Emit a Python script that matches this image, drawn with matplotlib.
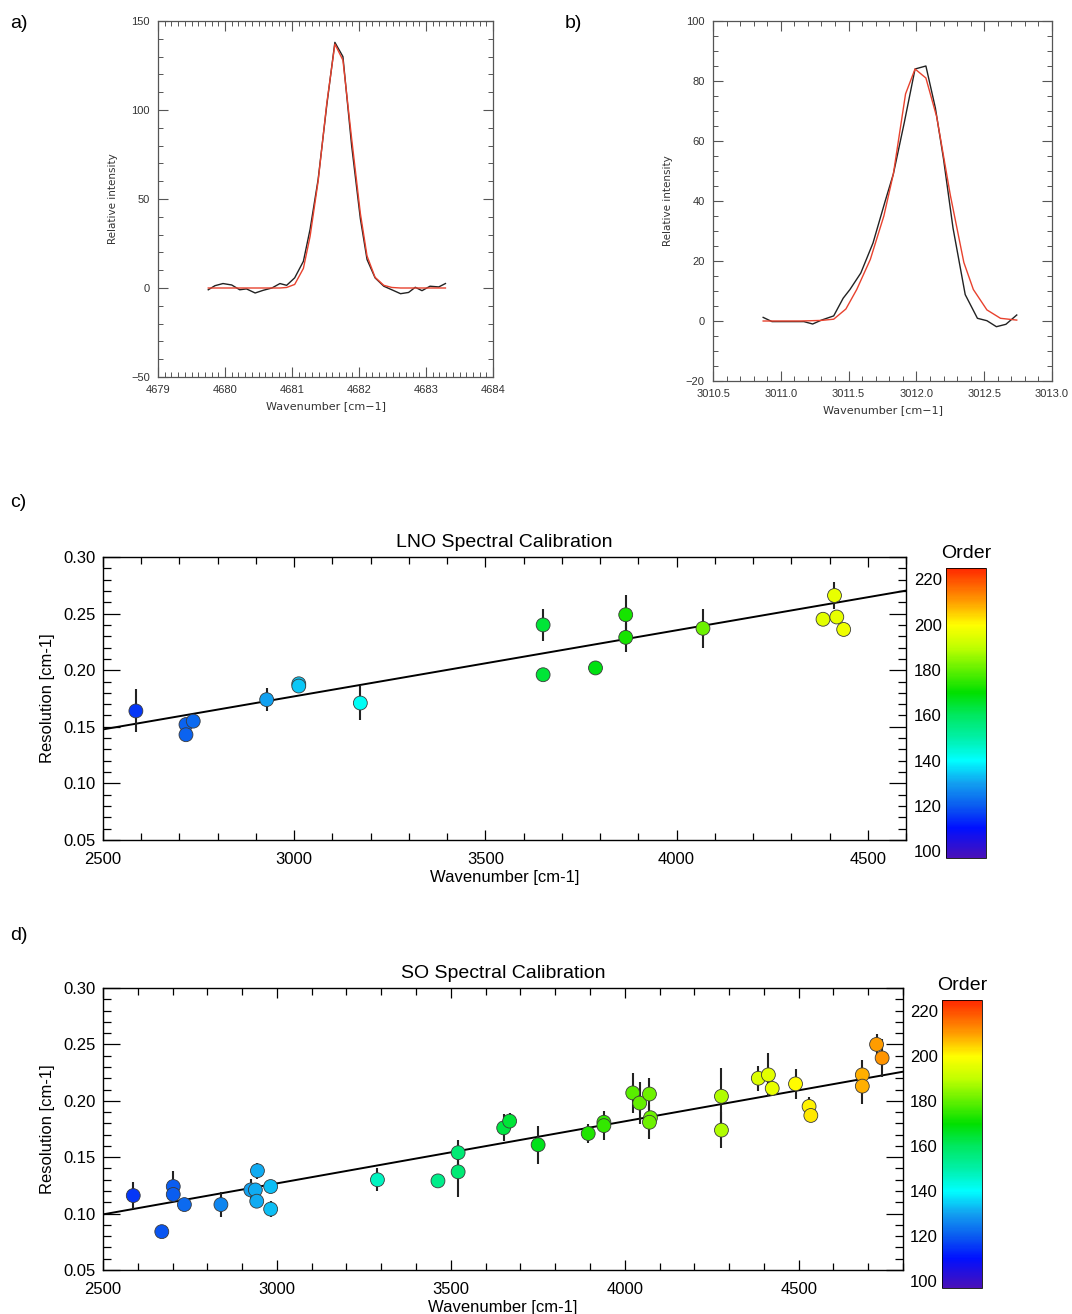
import matplotlib
matplotlib.use("Agg")
import matplotlib.pyplot as plt
import numpy as np
from matplotlib.colors import LinearSegmentedColormap, Normalize
from matplotlib.ticker import MultipleLocator

plt.rcParams["font.family"] = ["Liberation Sans", "DejaVu Sans"]

# ---- panel a: line at ~4681.6 cm-1
a_x = [4679.75, 4679.85, 4679.97, 4680.10, 4680.22, 4680.32, 4680.45, 4680.57,
       4680.70, 4680.82, 4680.92, 4681.04, 4681.17, 4681.27, 4681.39, 4681.52,
       4681.64, 4681.76, 4681.89, 4682.02, 4682.12, 4682.24, 4682.37, 4682.49,
       4682.62, 4682.74, 4682.84, 4682.94, 4683.06, 4683.19, 4683.29]
a_meas = [-1, 1.3, 2.5, 1.7, -1, -0.5, -2.8, -1.3, 0, 2.5, 1.5, 5.7, 15, 33, 61,
          103, 138, 130, 80, 39, 16, 5.7, 1, -1, -3.2, -2.5, 0.4, -1.5, 1, 0.6, 2.5]
a_fit = [0, 0, 0, 0, 0, 0, 0, 0, 0, 0, 0.3, 2, 11, 29, 60, 104, 137, 128, 84,
         42, 18, 6, 1.5, 0.3, 0, 0, 0, 0, 0, 0, 0]

# ---- panel b: line at ~3012.0 cm-1
b_x_meas = [3010.87, 3010.935, 3011.02, 3011.17, 3011.235, 3011.30, 3011.39,
            3011.46, 3011.51, 3011.59, 3011.68, 3011.77, 3011.83, 3011.91,
            3011.99, 3012.07, 3012.14, 3012.20, 3012.27, 3012.36, 3012.45,
            3012.52, 3012.59, 3012.66, 3012.74]
b_meas = [1.2, -0.2, -0.2, -0.2, -1.0, 0.3, 1.7, 7.6, 10.5, 16, 26, 40, 49, 66,
          84, 85, 71, 54, 31, 8.8, 0.9, 0.1, -1.9, -1.1, 2.0]
b_x_fit = [3010.87, 3011.00, 3011.15, 3011.30, 3011.39, 3011.48, 3011.56,
           3011.66, 3011.76, 3011.83, 3011.92, 3011.99, 3012.07, 3012.15,
           3012.25, 3012.35, 3012.42, 3012.52, 3012.62, 3012.74]
b_fit = [0, 0, 0, 0.2, 0.6, 4, 10.5, 20.5, 35, 49, 75.7, 84, 81, 68, 42, 19.5,
         10.5, 3.7, 0.9, 0.3]

# ---- panel c: LNO
lno_wn = [2586, 2717, 2717, 2736, 2928, 3012, 3012, 3173, 3651, 3651, 3788,
          3867, 3867, 4069, 4383, 4413, 4419, 4437]
lno_res = [0.164, 0.152, 0.143, 0.155, 0.174, 0.188, 0.186, 0.171, 0.240,
           0.196, 0.202, 0.249, 0.229, 0.237, 0.245, 0.266, 0.247, 0.236]
lno_err = [0.019, 0, 0, 0, 0.010, 0, 0, 0.015, 0.014, 0, 0, 0.017, 0.013,
           0.017, 0, 0.012, 0, 0]
lno_order = [115, 121, 121, 122, 130, 134, 134, 141, 164, 164, 168, 172, 172,
             181, 195, 196, 196, 197]
lno_fit_x = [2500, 4600]
lno_fit_y = [0.1477, 0.2703]

# ---- panel d: SO
so_wn = [2587, 2669, 2702, 2702, 2734, 2839, 2925, 2938, 2944, 2942, 2982, 2982,
         3289, 3463, 3521, 3521, 3652, 3669, 3751, 3895, 3940, 3940, 4023, 4043,
         4071, 4074, 4071, 4278, 4278, 4384, 4413, 4424, 4491, 4530, 4535, 4683,
         4683, 4724, 4740]
so_res = [0.116, 0.084, 0.124, 0.117, 0.108, 0.108, 0.121, 0.121, 0.138, 0.111,
          0.124, 0.104, 0.130, 0.129, 0.154, 0.137, 0.176, 0.182, 0.161, 0.171,
          0.181, 0.178, 0.207, 0.198, 0.206, 0.185, 0.181, 0.204, 0.174, 0.220,
          0.223, 0.211, 0.215, 0.195, 0.187, 0.223, 0.213, 0.250, 0.238]
so_err = [0.012, 0, 0.014, 0.006, 0, 0.011, 0.010, 0, 0.007, 0.006, 0, 0.007,
          0.010, 0, 0.011, 0.022, 0.012, 0.007, 0.017, 0.008, 0, 0.013, 0.018,
          0.019, 0.014, 0, 0.015, 0.025, 0.016, 0.011, 0.019, 0, 0.013, 0.008,
          0, 0.013, 0.016, 0.009, 0.017]
so_order = [115, 119, 120, 120, 122, 126, 130, 131, 131, 131, 133, 133, 147, 154,
            157, 157, 163, 164, 167, 173, 175, 175, 179, 180, 181, 181, 181, 188,
            188, 194, 195, 196, 200, 201, 202, 208, 208, 210, 211]
so_fit_x = [2500, 4800]
so_fit_y = [0.0993, 0.2258]

# colour table used for the diffraction order
order_min, order_max = 97, 225
cmap_stops = [(97, "#4a10b8"), (110, "#0010ff"), (120, "#0a5cf0"),
              (130, "#12a0f0"), (140, "#00ffff"), (150, "#00f0a8"),
              (160, "#00e860"), (170, "#00e000"), (180, "#60f000"),
              (190, "#c0ff00"), (200, "#ffff00"), (210, "#ffa000"),
              (220, "#ff5000"), (225, "#ff2800")]
order_cmap = LinearSegmentedColormap.from_list(
    "order", [((v - order_min) / (order_max - order_min), c) for v, c in cmap_stops])
norm = Normalize(order_min, order_max)

W, H = 1072, 1314
fig = plt.figure(figsize=(W / 100, H / 100), dpi=100)


def box(left, top, right, bottom):
    return [left / W, 1 - bottom / H, (right - left) / W, (bottom - top) / H]


def idl_style(ax):
    for s in ax.spines.values():
        s.set_color("#555555")
        s.set_linewidth(0.9)
    ax.tick_params(which="both", direction="in", top=True, right=True,
                   colors="#555555", labelcolor="#333333", labelsize=8, pad=6)
    ax.tick_params(which="major", length=7, width=0.8)
    ax.tick_params(which="minor", length=3.5, width=0.7)


# a)
ax_a = fig.add_axes(box(158, 21, 493, 377))
ax_a.plot(a_x, a_meas, color="#222222", lw=1)
ax_a.plot(a_x, a_fit, color="#e8422e", lw=1)
ax_a.set_xlim(4679, 4684)
ax_a.set_ylim(-50, 150)
ax_a.xaxis.set_major_locator(MultipleLocator(1))
ax_a.xaxis.set_minor_locator(MultipleLocator(0.1))
ax_a.yaxis.set_major_locator(MultipleLocator(50))
ax_a.yaxis.set_minor_locator(MultipleLocator(10))
ax_a.ticklabel_format(useOffset=False)
idl_style(ax_a)
ax_a.set_xlabel("Wavenumber [cm\u22121]", fontsize=8, color="#333333",
                family="DejaVu Sans", labelpad=4)
ax_a.set_ylabel("Relative intensity", fontsize=7.5, color="#333333",
                family="DejaVu Sans", labelpad=9)

# b)
ax_b = fig.add_axes(box(713, 21, 1052, 381))
ax_b.plot(b_x_meas, b_meas, color="#222222", lw=1)
ax_b.plot(b_x_fit, b_fit, color="#e8422e", lw=1)
ax_b.set_xlim(3010.5, 3013.0)
ax_b.set_ylim(-20, 100)
ax_b.xaxis.set_major_locator(MultipleLocator(0.5))
ax_b.xaxis.set_minor_locator(MultipleLocator(0.1))
ax_b.yaxis.set_major_locator(MultipleLocator(20))
ax_b.yaxis.set_minor_locator(MultipleLocator(5))
ax_b.ticklabel_format(useOffset=False)
ax_b.xaxis.set_major_formatter(matplotlib.ticker.FormatStrFormatter("%.1f"))
idl_style(ax_b)
ax_b.set_xlabel("Wavenumber [cm\u22121]", fontsize=8, color="#333333",
                family="DejaVu Sans", labelpad=4)
ax_b.set_ylabel("Relative intensity", fontsize=7.5, color="#333333",
                family="DejaVu Sans", labelpad=9)


def calib_panel(ax_box, cb_box, wn, res, err, order, fit_x, fit_y, xmax, title):
    ax = fig.add_axes(ax_box)
    ax.plot(fit_x, fit_y, color="black", lw=1.4, zorder=2)
    ax.errorbar(wn, res, yerr=err, fmt="none", ecolor="#222222", elinewidth=1.5,
                capsize=0, zorder=3)
    ax.scatter(wn, res, c=order, cmap=order_cmap, norm=norm, s=100,
               edgecolors="#3a3a3a", linewidths=0.6, zorder=4)
    ax.set_xlim(2500, xmax)
    ax.set_ylim(0.05, 0.30)
    ax.xaxis.set_major_locator(MultipleLocator(500))
    ax.xaxis.set_minor_locator(MultipleLocator(100))
    ax.yaxis.set_major_locator(MultipleLocator(0.05))
    ax.yaxis.set_minor_locator(MultipleLocator(0.01))
    ax.yaxis.set_major_formatter(matplotlib.ticker.FormatStrFormatter("%.2f"))
    for s in ax.spines.values():
        s.set_linewidth(1.0)
    ax.tick_params(which="both", direction="in", top=True, right=True,
                   labelsize=12, width=0.9)
    ax.tick_params(axis="x", pad=9)
    ax.tick_params(axis="y", pad=5)
    ax.tick_params(axis="y", which="major", length=12)
    ax.tick_params(axis="y", which="minor", length=6)
    ax.tick_params(axis="x", which="major", length=7)
    ax.tick_params(axis="x", which="minor", length=5)
    ax.set_title(title, fontsize=14, pad=7)
    ax.set_xlabel("Wavenumber [cm-1]", fontsize=12, labelpad=2)
    ax.set_ylabel("Resolution [cm-1]", fontsize=12, labelpad=6)

    cax = fig.add_axes(cb_box)
    sm = plt.cm.ScalarMappable(norm=norm, cmap=order_cmap)
    cb = fig.colorbar(sm, cax=cax, ticks=[100, 120, 140, 160, 180, 200, 220])
    cb.outline.set_linewidth(0.6)
    cax.yaxis.set_ticks_position("left")
    cax.tick_params(length=0, labelsize=12, pad=3)
    cax.text(0.5, 1.02, "Order", transform=cax.transAxes, ha="center",
             va="bottom", fontsize=14)
    return ax


calib_panel(box(103, 557, 906, 840), box(946, 568, 986, 858),
            lno_wn, lno_res, lno_err, lno_order, lno_fit_x, lno_fit_y, 4600,
            "LNO Spectral Calibration")
calib_panel(box(103, 988, 903, 1270), box(942, 1000, 982, 1288),
            so_wn, so_res, so_err, so_order, so_fit_x, so_fit_y, 4800,
            "SO Spectral Calibration")

for label, x, y in [("a)", 10, 23), ("b)", 565, 23), ("c)", 10, 503), ("d)", 10, 935)]:
    fig.text(x / W, 1 - y / H, label, fontsize=14, va="center", ha="left")

fig.savefig("out.png", dpi=100)
